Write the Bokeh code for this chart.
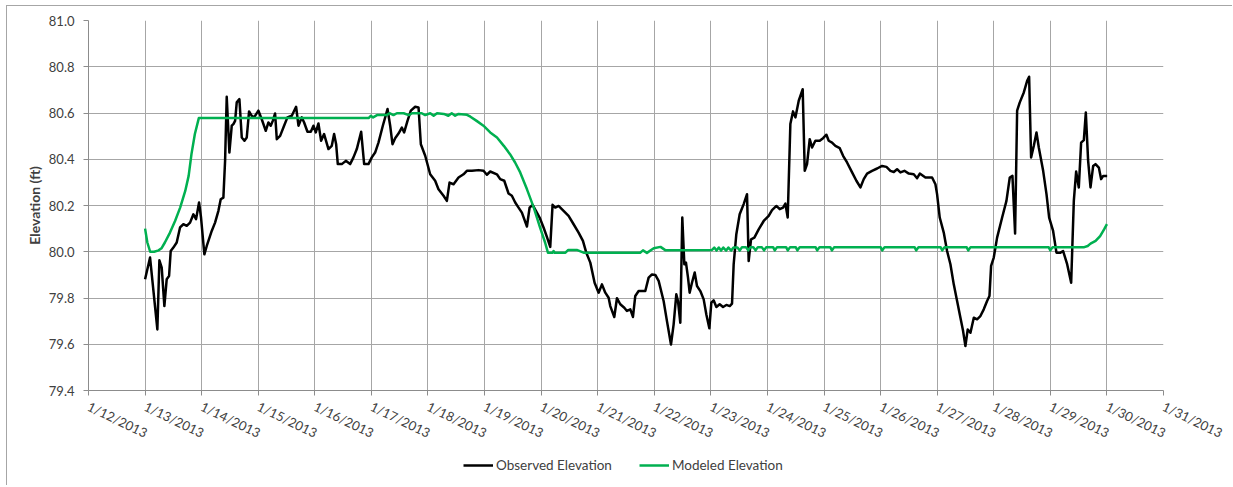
import math
from bokeh.plotting import figure
from bokeh.models import FixedTicker, NumeralTickFormatter, Legend, LegendItem, Range1d, Spacer
from bokeh.layouts import column, row
from bokeh.embed import file_html
from bokeh.resources import INLINE

# ---------------- data ----------------
tick_labels = ["1/12/2013", "1/13/2013", "1/14/2013", "1/15/2013", "1/16/2013",
               "1/17/2013", "1/18/2013", "1/19/2013", "1/20/2013", "1/21/2013",
               "1/22/2013", "1/23/2013", "1/24/2013", "1/25/2013", "1/26/2013",
               "1/27/2013", "1/28/2013", "1/29/2013", "1/30/2013", "1/31/2013"]
y_ticks = [79.4, 79.6, 79.8, 80.0, 80.2, 80.4, 80.6, 80.8, 81.0]
series_names = ["Observed Elevation", "Modeled Elevation"]

# days since 1/12/2013 00:00
obs_day = [
    1.000, 1.088, 1.217, 1.253, 1.294, 1.341, 1.382, 1.424, 1.453, 1.500,
    1.559, 1.618, 1.677, 1.736, 1.795, 1.854, 1.901, 1.954, 1.989, 2.048,
    2.090, 2.178, 2.237, 2.296, 2.337, 2.384, 2.414, 2.443, 2.490, 2.532,
    2.561, 2.591, 2.620, 2.667, 2.709, 2.756, 2.797, 2.838, 2.885, 2.927,
    3.003, 3.062, 3.133, 3.180, 3.221, 3.257, 3.298, 3.328, 3.387, 3.457,
    3.516, 3.593, 3.669, 3.711, 3.770, 3.811, 3.870, 3.929, 3.976, 4.017,
    4.064, 4.111, 4.164, 4.241, 4.300, 4.341, 4.377, 4.406, 4.477, 4.548,
    4.624, 4.683, 4.742, 4.819, 4.872, 4.948, 5.007, 5.066, 5.125, 5.202,
    5.285, 5.332, 5.373, 5.420, 5.479, 5.538, 5.579, 5.638, 5.697, 5.774,
    5.833, 5.874, 5.951, 6.039, 6.127, 6.186, 6.275, 6.334, 6.381, 6.452,
    6.540, 6.628, 6.687, 6.776, 6.894, 6.982, 7.041, 7.100, 7.218,
    7.277, 7.348, 7.424, 7.483, 7.542, 7.601, 7.660, 7.749, 7.796, 7.849,
    7.908, 7.973, 8.043, 8.102, 8.161, 8.202, 8.250, 8.309, 8.397, 8.485,
    8.574, 8.662, 8.739, 8.798, 8.869, 8.945, 9.016, 9.075, 9.134, 9.193,
    9.222, 9.293, 9.340, 9.399, 9.470, 9.517, 9.576, 9.623, 9.664, 9.723,
    9.800, 9.841, 9.900, 9.959, 10.018, 10.077, 10.165, 10.224, 10.295, 10.342,
    10.389, 10.419, 10.460, 10.495, 10.531, 10.560, 10.596, 10.625, 10.666, 10.714,
    10.755, 10.814, 10.873, 10.920, 10.973, 11.008, 11.049, 11.097, 11.156, 11.215,
    11.274, 11.333, 11.374, 11.403, 11.450, 11.509, 11.580, 11.639, 11.668, 11.710,
    11.769, 11.845, 11.934, 12.022, 12.081, 12.158, 12.217, 12.276, 12.317, 12.358,
    12.405, 12.452, 12.494, 12.553, 12.623, 12.659, 12.700, 12.747, 12.788, 12.847,
    12.924, 12.983, 13.042, 13.083, 13.142, 13.201, 13.278, 13.337, 13.407, 13.496,
    13.572, 13.643, 13.702, 13.761, 13.849, 13.938, 14.026, 14.103, 14.173, 14.233,
    14.291, 14.350, 14.421, 14.498, 14.586, 14.645, 14.693,
    14.792, 14.910, 14.969, 14.998, 15.045, 15.116, 15.175, 15.234, 15.293, 15.352,
    15.411, 15.458, 15.499, 15.540, 15.588, 15.647, 15.705, 15.764, 15.823, 15.882,
    15.924, 15.953, 16.000, 16.059, 16.148, 16.224, 16.283, 16.330, 16.377, 16.413,
    16.460, 16.531, 16.590, 16.625, 16.660, 16.708, 16.755, 16.796, 16.873, 16.932,
    16.979, 17.049, 17.108, 17.179, 17.226, 17.297, 17.368, 17.415, 17.456, 17.503,
    17.544, 17.592, 17.627, 17.668, 17.710, 17.757, 17.798, 17.857, 17.898, 17.934,
    18.004,
]
obs_elev = [
    79.881, 79.975, 79.664, 79.963, 79.931, 79.765, 79.881, 79.895, 80.003, 80.018,
    80.040, 80.105, 80.119, 80.112, 80.126, 80.162, 80.141, 80.213, 80.148, 79.989,
    80.025, 80.090, 80.126, 80.177, 80.227, 80.234, 80.393, 80.670, 80.429, 80.545,
    80.552, 80.566, 80.646, 80.660, 80.494, 80.480, 80.494, 80.607, 80.588, 80.581,
    80.610, 80.573, 80.523, 80.559, 80.545, 80.566, 80.598, 80.487, 80.501, 80.545,
    80.581, 80.588, 80.627, 80.545, 80.581, 80.559, 80.519, 80.519, 80.545, 80.516,
    80.555, 80.480, 80.509, 80.444, 80.458, 80.509, 80.465, 80.379, 80.379, 80.393,
    80.379, 80.408, 80.444, 80.519, 80.379, 80.379, 80.408, 80.429, 80.472, 80.545,
    80.617, 80.545, 80.465, 80.491, 80.511, 80.537, 80.516, 80.566, 80.610, 80.627,
    80.624, 80.465, 80.415, 80.335, 80.307, 80.270, 80.242, 80.220, 80.299, 80.292,
    80.321, 80.335, 80.350, 80.350, 80.353, 80.350, 80.333, 80.347, 80.335,
    80.314, 80.307, 80.252, 80.242, 80.213, 80.191, 80.169, 80.109, 80.191, 80.203,
    80.177, 80.148, 80.105, 80.064, 80.021, 80.203, 80.191, 80.198, 80.177, 80.155,
    80.119, 80.083, 80.047, 79.996, 79.953, 79.866, 79.823, 79.859, 79.823, 79.801,
    79.765, 79.718, 79.799, 79.773, 79.758, 79.744, 79.751, 79.718, 79.809, 79.830,
    79.830, 79.830, 79.888, 79.902, 79.900, 79.874, 79.787, 79.700, 79.599, 79.686,
    79.816, 79.787, 79.693, 80.148, 79.946, 79.953, 79.888, 79.823, 79.866, 79.910,
    79.852, 79.830, 79.794, 79.729, 79.669, 79.780, 79.790, 79.761, 79.773, 79.761,
    79.770, 79.765, 79.776, 79.946, 80.076, 80.162, 80.206, 80.249, 79.960, 80.054,
    80.061, 80.097, 80.133, 80.155, 80.180, 80.198, 80.184, 80.191, 80.208, 80.148,
    80.552, 80.607, 80.581, 80.653, 80.703, 80.350, 80.379, 80.487, 80.451, 80.480,
    80.480, 80.491, 80.506, 80.480, 80.472, 80.458, 80.448, 80.415, 80.386, 80.343,
    80.307, 80.278, 80.314, 80.338, 80.350, 80.360, 80.371, 80.367, 80.350, 80.345,
    80.357, 80.343, 80.350, 80.338, 80.335, 80.318, 80.338,
    80.321, 80.321, 80.292, 80.249, 80.148, 80.083, 80.003, 79.946, 79.859, 79.787,
    79.715, 79.657, 79.592, 79.664, 79.650, 79.715, 79.708, 79.722, 79.751, 79.787,
    79.809, 79.939, 79.975, 80.061, 80.148, 80.220, 80.321, 80.328, 80.079, 80.610,
    80.646, 80.689, 80.739, 80.757, 80.408, 80.458, 80.516, 80.451, 80.350, 80.249,
    80.148, 80.090, 79.996, 79.996, 80.003, 79.946, 79.866, 80.220, 80.347, 80.278,
    80.472, 80.483, 80.602, 80.393, 80.278, 80.371, 80.379, 80.364, 80.314, 80.328,
    80.328,
]

mod_day = [
    1.00, 1.04, 1.09, 1.16, 1.24, 1.29, 1.35, 1.44, 1.53, 1.62,
    1.71, 1.77, 1.82, 1.88, 1.95, 4.95, 4.99, 5.03, 5.10, 5.27,
    5.32, 5.39, 5.45, 5.57, 5.66, 5.72, 5.89, 5.95, 6.04, 6.10,
    6.16, 6.28, 6.36, 6.42, 6.48, 6.54, 6.69, 6.75, 6.86, 6.98,
    7.10, 7.22, 7.34, 7.45, 7.54, 7.63, 7.75, 7.87, 7.98, 8.07,
    8.12, 8.20, 8.22, 8.24, 8.43, 8.48, 8.63, 8.75, 9.75, 9.80,
    9.87, 9.99, 10.11, 10.20, 11.02, 11.06, 11.10, 11.14, 11.18, 11.22,
    11.27, 11.31, 11.36, 11.40, 11.47, 11.51, 11.55, 11.62, 11.66, 11.70,
    11.75, 11.79, 11.83, 11.90, 11.94, 11.98, 12.10, 12.13, 12.17, 12.33,
    12.36, 12.40, 12.50, 12.53, 12.57, 12.85, 12.88, 12.92, 13.11, 13.14,
    13.18, 14.00, 14.03, 14.07, 14.60, 14.63, 14.67, 15.06, 15.09, 15.13,
    15.52, 15.55, 15.59, 16.97, 17.00, 17.04, 17.60, 17.66, 17.71, 17.80,
    17.88, 17.95, 18.00,
]
mod_elev = [
    80.100, 80.040, 80.000, 80.000, 80.006, 80.015, 80.040, 80.083, 80.133, 80.191,
    80.263, 80.328, 80.422, 80.509, 80.578, 80.578, 80.588, 80.581, 80.591, 80.591,
    80.599, 80.591, 80.599, 80.599, 80.591, 80.599, 80.599, 80.591, 80.599, 80.588,
    80.599, 80.596, 80.588, 80.599, 80.588, 80.596, 80.592, 80.584, 80.566, 80.545,
    80.516, 80.494, 80.458, 80.422, 80.386, 80.343, 80.270, 80.191, 80.105, 80.040,
    79.996, 79.996, 80.003, 79.996, 79.996, 80.008, 80.008, 79.996, 79.996, 80.006,
    79.995, 80.015, 80.021, 80.006, 80.008, 80.018, 80.005, 80.018, 80.005, 80.018,
    80.005, 80.018, 80.005, 80.018, 80.018, 80.005, 80.020, 80.020, 80.006, 80.020,
    80.020, 80.006, 80.020, 80.020, 80.006, 80.020, 80.020, 80.006, 80.020, 80.020,
    80.006, 80.020, 80.020, 80.006, 80.020, 80.020, 80.006, 80.020, 80.020, 80.006,
    80.020, 80.020, 80.006, 80.020, 80.020, 80.006, 80.020, 80.020, 80.006, 80.020,
    80.020, 80.006, 80.020, 80.020, 80.006, 80.020, 80.020, 80.025, 80.035, 80.047,
    80.068, 80.097, 80.119,
]

# ---------------- style ----------------
FONT = "Lato"
TXT = "#404040"
OBS_COLOR = "black"
MOD_COLOR = "#00B050"
BORDER = "1px solid #a6a6a6"

# ---------------- main chart ----------------
p = figure(width=1226, height=450, output_backend="svg", toolbar_location=None,
           x_range=Range1d(0, len(tick_labels) - 1), y_range=Range1d(y_ticks[0], y_ticks[-1]),
           min_border_left=81, min_border_right=70, min_border_top=14, min_border_bottom=66,
           background_fill_color="white", border_fill_color="white")
p.styles = {"border-top": BORDER, "border-left": BORDER}
p.outline_line_color = None

p.xaxis.ticker = FixedTicker(ticks=list(range(len(tick_labels))))
p.xaxis.major_label_overrides = {i: lbl for i, lbl in enumerate(tick_labels)}
p.xaxis.major_label_orientation = -0.45
p.yaxis.ticker = FixedTicker(ticks=y_ticks)
p.yaxis.formatter = NumeralTickFormatter(format="0.0")

for ax in (p.xaxis, p.yaxis):
    ax.axis_line_color = "#8c8c8c"
    ax.major_tick_line_color = "#8c8c8c"
    ax.major_tick_out = 5
    ax.major_tick_in = 0
    ax.minor_tick_line_color = None
    ax.major_label_text_font = FONT
    ax.major_label_text_font_size = "13px"
    ax.major_label_text_color = TXT
p.xaxis.major_label_standoff = 10
p.yaxis.major_label_standoff = 9

p.yaxis.axis_label = "Elevation (ft)"
p.yaxis.axis_label_text_font = FONT
p.yaxis.axis_label_text_font_size = "14px"
p.yaxis.axis_label_text_font_style = "bold"
p.yaxis.axis_label_text_color = TXT
p.yaxis.axis_label_standoff = 3

for g in (p.xgrid, p.ygrid):
    g.grid_line_color = "#a6a6a6"
    g.grid_line_width = 1

p.line(obs_day, obs_elev, line_color=OBS_COLOR, line_width=2.5, line_join="round")
p.line(mod_day, mod_elev, line_color=MOD_COLOR, line_width=2.5, line_join="round")

# ---------------- legend strip ----------------
pl = figure(width=1226, height=30, output_backend="svg", toolbar_location=None,
            x_axis_type=None, y_axis_type=None,
            x_range=Range1d(0, 1), y_range=Range1d(0, 1),
            min_border_left=0, min_border_right=0, min_border_top=0, min_border_bottom=0,
            background_fill_color="white", border_fill_color="white")
pl.styles = {"border-left": BORDER}
pl.outline_line_color = None
pl.xgrid.visible = False
pl.ygrid.visible = False
# single-point lines (draw nothing in the strip) that only feed the legend glyphs
l_obs = pl.line(obs_day[:1], obs_elev[:1], line_color=OBS_COLOR, line_width=2.5)
l_mod = pl.line(mod_day[:1], mod_elev[:1], line_color=MOD_COLOR, line_width=2.5)
legend = Legend(items=[LegendItem(label=series_names[0], renderers=[l_obs]),
                       LegendItem(label=series_names[1], renderers=[l_mod])],
                orientation="horizontal", location=(375, 10),
                glyph_width=30, glyph_height=20, label_standoff=3, spacing=27,
                padding=0, margin=0, border_line_color=None, background_fill_alpha=0,
                label_text_font=FONT, label_text_font_size="13.5px", label_text_color=TXT)
pl.add_layout(legend, "center")

layout = column(Spacer(height=5), row(Spacer(width=6), column(p, pl)))
open("out.html", "w").write(file_html(layout, INLINE))
